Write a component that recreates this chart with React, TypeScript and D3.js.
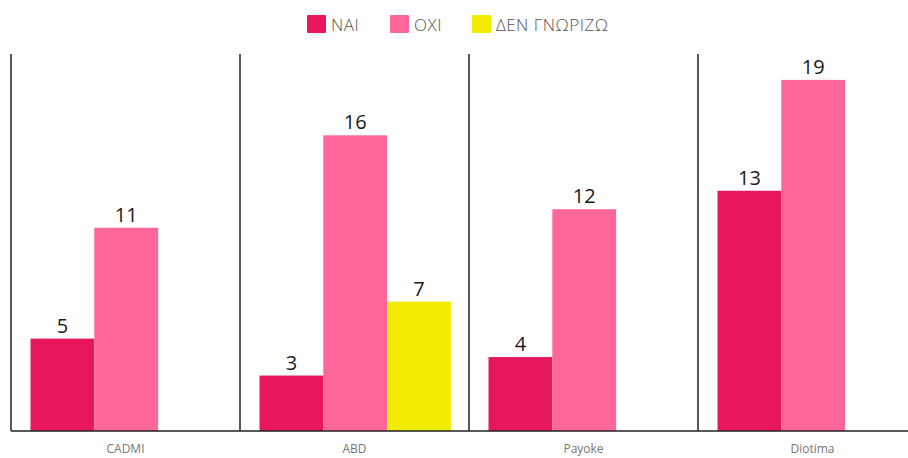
import * as d3 from 'd3';

const categories = ['CADMI', 'ABD', 'Payoke', 'Diotima'];
const seriesNames = ['ΝΑΙ', 'ΟΧΙ', 'ΔΕΝ ΓΝΩΡΙΖΩ'];
const naiValues = [5, 3, 4, 13];
const oxiValues = [11, 16, 12, 19];
const denValues: (number | null)[] = [null, 7, null, null];
const seriesColors = ['#E8175D', '#FF6699', '#F2ED00'];

const width = 908;
const height = 458;
const margin = { top: 54, left: 11, bottom: 27 };
const groupWidth = 229;

const App = () => {
    const seriesValues = [naiValues, oxiValues, denValues];

    const x = d3.scaleBand()
        .domain(categories)
        .range([margin.left, margin.left + groupWidth * categories.length])
        .padding(0);

    // bars sit in the middle of each group, with room for all three series
    const xInner = d3.scaleBand()
        .domain(seriesNames)
        .range([19.5, 19.5 + 3 * 63.8])
        .padding(0);

    const baseline = height - margin.bottom;
    const y = d3.scaleLinear()
        .domain([0, 20.4])
        .range([baseline, margin.top]);

    // legend layout
    const legendX = [307, 390, 472];

    return (
        <svg width={width} height={height} style={{ display: 'block', position: 'absolute', left: 0, top: 0 }}>
            <rect width={width} height={height} fill="#fff" />

            {/* legend */}
            {seriesNames.map((name, i) => (
                <g key={name} transform={`translate(${legendX[i]}, 15)`}>
                    <rect width={19} height={18} fill={seriesColors[i]} rx={1} />
                    <text x={24} y={16} fontFamily="'Open Sans', sans-serif" fontSize={17}
                        fill="#555" fontWeight={300} letterSpacing={0.5}>{name}</text>
                </g>
            ))}

            {/* bars */}
            {categories.map((cat, ci) => (
                <g key={cat} transform={`translate(${x(cat)}, 0)`}>
                    {seriesNames.map((s, si) => {
                        const v = seriesValues[si][ci];
                        if (v == null) return null;
                        const bx = xInner(s) as number;
                        return (
                            <g key={s}>
                                <rect x={bx} y={y(v)} width={xInner.bandwidth()} height={baseline - y(v)}
                                    fill={seriesColors[si]} />
                                <text x={bx + xInner.bandwidth() / 2} y={y(v) - 6} textAnchor="middle"
                                    fontFamily="'Open Sans', sans-serif" fontSize={20} fill="#1a1a1a">{v}</text>
                            </g>
                        );
                    })}
                    <text x={x.bandwidth() / 2} y={baseline + 22} textAnchor="middle"
                        fontFamily="'Open Sans', sans-serif" fontSize={12} fill="#777">{cat}</text>
                </g>
            ))}

            {/* group separators */}
            {categories.map((cat) => (
                <line key={cat} x1={x(cat)} x2={x(cat)} y1={margin.top} y2={baseline}
                    stroke="#222" strokeWidth={1.5} />
            ))}
            <line x1={margin.left} x2={width} y1={baseline} y2={baseline} stroke="#222" strokeWidth={1.5} />
        </svg>
    );
};

export default App;
